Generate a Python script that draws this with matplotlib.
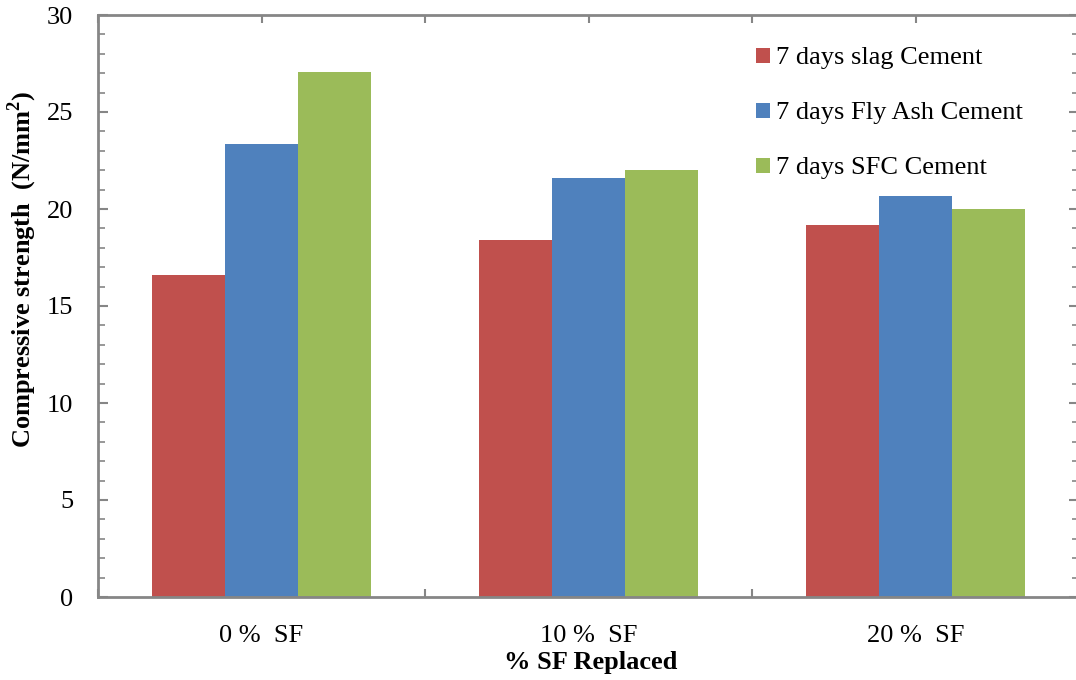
import matplotlib.pyplot as plt
import numpy as np
from matplotlib.ticker import MultipleLocator

plt.rcParams['font.family'] = ['Liberation Serif', 'DejaVu Serif']

groups = ['0 %  SF', '10 %  SF', '20 %  SF']
series = ['7 days slag Cement', '7 days Fly Ash Cement', '7 days SFC Cement']
slag = [16.6, 18.4, 19.2]
fly_ash = [23.35, 21.6, 20.65]
sfc = [27.05, 22.0, 20.0]
colors = ['#C0504D', '#4F81BD', '#9BBB59']

fig = plt.figure(figsize=(10.76, 6.8), dpi=100)
ax = fig.add_axes([98/1076, 1 - 597/680, (1079 - 98)/1076, (597 - 15)/680])

x = np.arange(len(groups))
w = 0.223
for i, (vals, name) in enumerate(zip([slag, fly_ash, sfc], series)):
    ax.bar(x + (i - 1)*w, vals, w, color=colors[i], label=name, zorder=2)

axis_grey = '#868686'
ax.set_xlim(-0.5, 2.5)
ax.set_ylim(0, 30)
ax.yaxis.set_major_locator(MultipleLocator(5))
ax.yaxis.set_minor_locator(MultipleLocator(1))
ax.set_xticks(x)
ax.set_xticklabels(groups, fontsize=19)
ax.set_xticks(np.arange(-0.5, 3, 0.5), minor=True)
ax.tick_params(axis='x', which='both', direction='in', length=6, color=axis_grey,
               width=1.5, top=True, pad=20)
ax.tick_params(axis='y', which='major', direction='in', length=7, color=axis_grey,
               width=1.5, labelsize=19, right=True, pad=18)
ax.tick_params(axis='y', which='minor', direction='in', length=5, color=axis_grey,
               width=1.2, right=True)
for s in ax.spines.values():
    s.set_color(axis_grey)
    s.set_linewidth(2)

# axis titles placed in figure coordinates
fig.text(22/1076, 1 - 269/680, 'Compressive strength  (N/mm$^\\mathregular{2}$)',
         rotation=90, ha='center', va='center', fontsize=19, fontweight='bold')
fig.text(591/1076, 1 - 662/680, '% SF Replaced', ha='center', va='center',
         fontsize=19, fontweight='bold')

leg = ax.legend(loc='upper left', bbox_to_anchor=(0.647, 0.985), frameon=False,
                fontsize=19, handlelength=0.5, handleheight=0.5,
                handletextpad=0.25, labelspacing=1.25)

fig.savefig('out.png', dpi=100)
